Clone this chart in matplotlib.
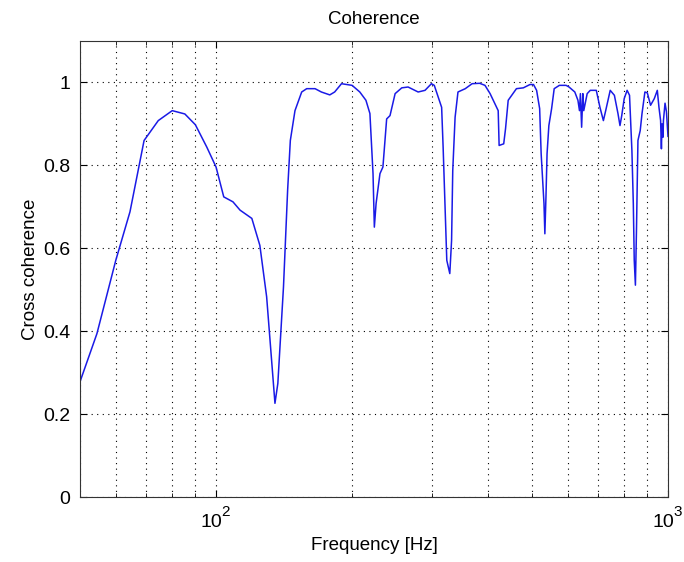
import matplotlib
matplotlib.use("Agg")
import matplotlib.pyplot as plt
import numpy as np
from matplotlib.ticker import LogLocator, FixedLocator, NullFormatter

freq = [50, 54.5, 60, 64.5, 69.3, 74.5, 80, 85.3, 90, 95.4, 100, 104, 109, 113, 120, 125, 129.4,
        135, 137, 141, 144, 146, 149.5, 154.7, 158.7, 165.6, 171, 178.5, 183, 189.5, 200, 208,
        214.6, 219, 222.5, 224, 226, 230.5, 234, 238.5, 242.6, 249, 257.6, 266, 280, 290, 299.6,
        304, 310, 315.6, 318, 322.5, 324, 329, 332, 334, 338, 343, 356, 368.6, 383, 393.6, 404,
        414, 421, 423, 433, 437, 443, 451, 462, 478.5, 495, 504, 512, 520, 524, 531.6, 534, 537,
        540, 545, 552.7, 560, 575, 595, 604, 622, 632, 637, 640, 644, 648, 651, 662.5, 673, 694,
        707, 719.5, 728, 745, 761, 775, 783, 790, 800, 812, 822, 832, 838, 842, 847, 851.6, 858,
        868, 876, 889, 900, 915, 932.6, 947, 955, 963, 967, 970, 975, 977, 985, 992, 1000]
coh = [0.278, 0.394, 0.571, 0.688, 0.86, 0.908, 0.932, 0.924, 0.898, 0.844, 0.796, 0.724, 0.712,
       0.692, 0.672, 0.607, 0.483, 0.226, 0.274, 0.507, 0.74, 0.86, 0.932, 0.977, 0.985, 0.985,
       0.977, 0.970, 0.977, 0.997, 0.993, 0.977, 0.957, 0.925, 0.78, 0.651, 0.708, 0.78, 0.796,
       0.912, 0.92, 0.973, 0.987, 0.989, 0.977, 0.981, 0.997, 0.993, 0.965, 0.94, 0.844, 0.643,
       0.571, 0.539, 0.619, 0.788, 0.916, 0.977, 0.985, 0.997, 0.998, 0.993, 0.973, 0.949, 0.932,
       0.848, 0.852, 0.888, 0.957, 0.969, 0.985, 0.987, 0.995, 0.995, 0.981, 0.937, 0.828, 0.708,
       0.635, 0.724, 0.828, 0.896, 0.937, 0.985, 0.993, 0.993, 0.989, 0.977, 0.957, 0.932, 0.973,
       0.892, 0.973, 0.932, 0.973, 0.981, 0.981, 0.94, 0.908, 0.932, 0.981, 0.969, 0.925, 0.896,
       0.92, 0.961, 0.981, 0.969, 0.836, 0.708, 0.571, 0.511, 0.643, 0.86, 0.884, 0.925, 0.977,
       0.975, 0.945, 0.961, 0.981, 0.94, 0.908, 0.84, 0.9, 0.868, 0.908, 0.95, 0.93, 0.87]

xlim = (50, 1000)
ylim = (0, 1.1)
yticks = [0, 0.2, 0.4, 0.6, 0.8, 1]
ytick_labels = ["0", "0.2", "0.4", "0.6", "0.8", "1"]
xticks = [100, 1000]
xtick_bases = ["10", "10"]
xtick_exps = ["2", "3"]

plt.rcParams['font.family'] = ['Liberation Sans', 'DejaVu Sans']

fig = plt.figure(figsize=(6.84, 5.62), dpi=100)
ax = fig.add_axes([80/684, 65/562, 588/684, 456/562])
ax.plot(freq, coh, color=(0.1, 0.1, 0.9), linewidth=1.1)
ax.set_xscale('log')
ax.set_xlim(*xlim)
ax.set_ylim(*ylim)
ax.set_yticks(yticks)
ax.set_yticklabels(ytick_labels)
ax.xaxis.set_major_locator(FixedLocator(xticks))
ax.xaxis.set_minor_locator(LogLocator(base=10, subs=np.arange(2, 10)))
ax.xaxis.set_minor_formatter(NullFormatter())
ax.set_xticklabels([""] * len(xticks))

# MATLAB-style "10" with raised exponent, placed under each major tick
for xv, base, ex in zip(xticks, xtick_bases, xtick_exps):
    ax.annotate(base, xy=(xv, 0), xycoords=('data', 'axes fraction'),
                xytext=(-3.6, -12.5), textcoords='offset points',
                ha='center', va='top', fontsize=14, annotation_clip=False)
    ax.annotate(ex, xy=(xv, 0), xycoords=('data', 'axes fraction'),
                xytext=(4.0, -5.5), textcoords='offset points',
                ha='left', va='top', fontsize=11, annotation_clip=False)

ax.grid(True, which='major', axis='both', linestyle=(0, (1, 4)), color='black', linewidth=0.8)
ax.grid(True, which='minor', axis='x', linestyle=(0, (1, 4)), color='black', linewidth=0.8)

ax.tick_params(which='both', direction='in', top=True, right=True, labelsize=14, colors='black', pad=7)
ax.tick_params(which='major', length=5)
ax.tick_params(which='minor', length=3)
for s in ax.spines.values():
    s.set_linewidth(0.8)
    s.set_color('#333333')

ax.set_title("Coherence", fontsize=13.5, pad=12)
ax.set_xlabel("Frequency [Hz]", fontsize=13.5)
ax.xaxis.set_label_coords(0.5, -0.088)
ax.set_ylabel("Cross coherence", fontsize=13.5, labelpad=3)

fig.savefig("out.png", dpi=100, facecolor='white')
